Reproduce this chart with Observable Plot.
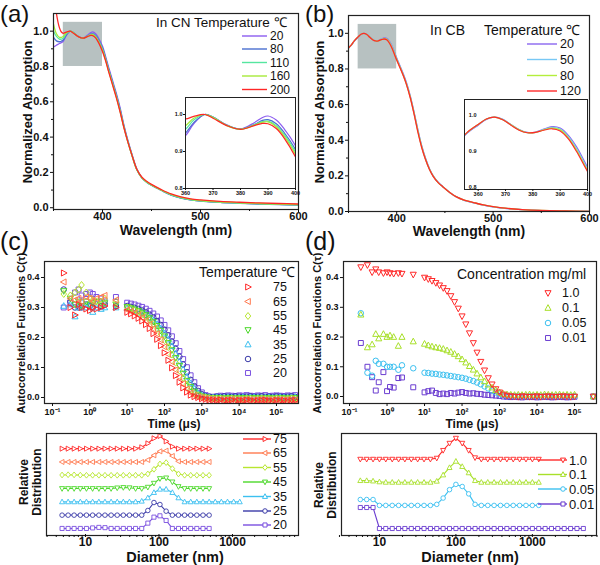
<!DOCTYPE html>
<html><head><meta charset="utf-8">
<script src="https://cdn.jsdelivr.net/npm/d3@7"></script>
<script src="https://cdn.jsdelivr.net/npm/@observablehq/plot@0.6"></script>
<style>
body{margin:0;background:#fff}
#fig{position:relative;width:600px;height:565px;overflow:hidden;font-family:"Liberation Sans",Arial,sans-serif;color:#111;background:#fff}
.t{position:absolute;white-space:nowrap;line-height:1;color:#111}
</style></head><body><div id="fig"></div>
<script>
// ================= DATA =================
// (a) UV-Vis in CN, temperatures
const seriesA = ["20", "80", "110", "160", "200"];
const wavelengthsA = [350,353,356,358,360,363,367,370,375,380,385,388,390,393,396,400,403,406,410,414,418,422,426,430,435,440,445,450,460,470,480,490,500,520,540,560,580,600];
const absA_20  = [0.91,0.92,0.93,0.935,0.943,0.975,1.0,0.993,0.972,0.961,0.978,0.992,0.996,0.985,0.96,0.915,0.86,0.80,0.725,0.65,0.565,0.465,0.38,0.305,0.22,0.172,0.146,0.128,0.099,0.073,0.056,0.045,0.039,0.031,0.026,0.022,0.019,0.016];
const absA_80  = [0.965,0.945,0.94,0.943,0.95,0.978,1.0,0.993,0.971,0.96,0.973,0.984,0.986,0.975,0.95,0.905,0.85,0.79,0.715,0.64,0.555,0.458,0.374,0.30,0.216,0.17,0.145,0.127,0.098,0.072,0.055,0.044,0.038,0.030,0.025,0.021,0.018,0.015];
const absA_110 = [1.0,0.97,0.955,0.955,0.96,0.985,1.0,0.993,0.971,0.96,0.972,0.981,0.982,0.97,0.945,0.898,0.845,0.785,0.71,0.635,0.55,0.455,0.372,0.298,0.215,0.17,0.145,0.127,0.099,0.073,0.056,0.045,0.039,0.031,0.026,0.022,0.019,0.016];
const absA_160 = [1.04,0.985,0.965,0.965,0.97,0.99,1.0,0.992,0.97,0.96,0.971,0.979,0.98,0.967,0.94,0.892,0.84,0.78,0.705,0.63,0.545,0.452,0.37,0.297,0.216,0.171,0.147,0.129,0.10,0.075,0.058,0.047,0.041,0.033,0.028,0.024,0.021,0.018];
const absA_200 = [1.25,1.1,1.02,0.995,0.988,0.995,1.0,0.99,0.97,0.96,0.97,0.976,0.975,0.962,0.935,0.885,0.835,0.775,0.70,0.625,0.542,0.45,0.37,0.298,0.218,0.174,0.15,0.132,0.103,0.078,0.061,0.05,0.044,0.036,0.031,0.027,0.024,0.021];
const absA = [absA_20, absA_80, absA_110, absA_160, absA_200];

// (b) UV-Vis in CB, temperatures
const seriesB = ["20", "50", "80", "120"];
const wavelengthsB = [350,353,356,360,363,366,369,372,375,378,381,384,387,390,393,396,400,404,407,410,414,418,422,426,430,434,438,443,448,455,462,470,480,490,500,515,530,550,575,600];
const absB_20  = [0.918,0.934,0.956,0.978,0.994,1.0,0.994,0.98,0.966,0.958,0.959,0.967,0.974,0.970,0.95,0.918,0.862,0.81,0.77,0.725,0.65,0.558,0.458,0.368,0.297,0.24,0.199,0.164,0.139,0.107,0.082,0.063,0.049,0.036,0.026,0.016,0.01,0.005,0.002,0.0];
const absB_50  = [0.918,0.934,0.957,0.979,0.995,1.0,0.994,0.979,0.965,0.957,0.958,0.966,0.972,0.967,0.946,0.913,0.857,0.805,0.765,0.72,0.646,0.554,0.455,0.365,0.295,0.239,0.198,0.163,0.139,0.107,0.082,0.063,0.049,0.036,0.026,0.016,0.01,0.005,0.002,0.0];
const absB_80  = [0.918,0.935,0.958,0.98,0.995,1.0,0.993,0.979,0.965,0.957,0.958,0.965,0.970,0.965,0.943,0.909,0.853,0.802,0.762,0.717,0.643,0.551,0.45,0.361,0.292,0.237,0.197,0.162,0.138,0.107,0.082,0.064,0.05,0.037,0.027,0.017,0.011,0.006,0.003,0.001];
const absB_120 = [0.918,0.935,0.958,0.98,0.995,1.0,0.993,0.978,0.964,0.957,0.958,0.964,0.968,0.962,0.94,0.905,0.85,0.80,0.76,0.715,0.64,0.548,0.445,0.358,0.29,0.236,0.196,0.162,0.138,0.107,0.082,0.064,0.05,0.037,0.027,0.017,0.011,0.006,0.003,0.001];
const absB = [absB_20, absB_50, absB_80, absB_120];

// highlighted zoom window (wavelength, absorbance)
const zoomWindow = {x1: 360, x2: 400, y1: 0.8, y2: 1.05};

// (c)/(d) DLS lag times (μs)
const lagTimes = [0.2,0.3,0.4,0.5,0.6,0.8,1,1.2,1.5,2,2.5,5,
  10,12.6,15.8,20,25.1,31.6,39.8,50.1,63.1,79.4,
  100,126,158,200,251,316,398,501,631,794,
  1000,1259,1585,1995,2512,3162,3981,5012,6310,7943,
  10000,12590,15850,19950,25120,31620,39810,50120,63100,79430,
  100000,125900,158500,199500,251200,316200];

// (c) autocorrelation, temperatures
const seriesC = ["75", "65", "55", "45", "35", "25", "20"];
const acfC_75 = [0.415,0.30,0.275,0.31,0.30,0.295,0.29,0.30,0.295,0.30,0.305,0.30,
  0.284,0.279,0.272,0.264,0.255,0.243,0.230,0.213,0.194,0.173,
  0.149,0.124,0.099,0.073,0.051,0.032,0.018,0.008,0.003,0.0,
  -0.004,-0.006,-0.008,-0.009,-0.01,-0.008,-0.011,-0.01,-0.009,-0.012,
  -0.01,-0.011,-0.009,-0.01,-0.012,-0.011,-0.01,-0.009,-0.011,-0.012,
  -0.01,-0.011,-0.01,-0.012,-0.011,-0.01];
const acfC_65 = [0.385,0.33,0.325,0.33,0.32,0.335,0.33,0.32,0.33,0.335,0.34,0.325,
  0.292,0.287,0.282,0.275,0.266,0.256,0.244,0.229,0.212,0.192,
  0.169,0.144,0.119,0.092,0.068,0.046,0.028,0.015,0.007,0.002,
  0.0,-0.003,-0.005,-0.006,-0.007,-0.006,-0.008,-0.007,-0.006,-0.008,
  -0.007,-0.008,-0.006,-0.007,-0.008,-0.007,-0.006,-0.008,-0.007,-0.008,
  -0.006,-0.007,-0.008,-0.007,-0.006,-0.008];
const acfC_55 = [0.345,0.34,0.35,0.36,0.375,0.35,0.33,0.325,0.32,0.31,0.33,0.32,
  0.300,0.296,0.291,0.285,0.278,0.269,0.258,0.245,0.230,0.212,
  0.191,0.168,0.143,0.116,0.090,0.065,0.043,0.026,0.013,0.006,
  0.002,0.0,-0.002,-0.003,-0.004,-0.003,-0.005,-0.004,-0.003,-0.005,
  -0.004,-0.005,-0.003,-0.004,-0.005,-0.004,-0.003,-0.005,-0.004,-0.005,
  -0.003,-0.004,-0.005,-0.004,-0.003,-0.005];
const acfC_45 = [0.355,0.33,0.31,0.32,0.305,0.32,0.31,0.315,0.32,0.32,0.315,0.31,
  0.302,0.298,0.294,0.289,0.283,0.275,0.265,0.253,0.239,0.223,
  0.204,0.182,0.158,0.132,0.106,0.080,0.056,0.036,0.020,0.010,
  0.004,0.001,-0.001,-0.002,-0.001,-0.002,-0.003,-0.001,-0.002,-0.003,
  -0.002,-0.001,-0.003,-0.002,-0.001,-0.002,-0.003,-0.002,-0.001,-0.003,
  -0.002,-0.001,-0.002,-0.003,-0.002,-0.001];
const acfC_35 = [0.305,0.31,0.27,0.30,0.32,0.30,0.31,0.285,0.30,0.295,0.30,0.30,
  0.298,0.296,0.292,0.287,0.282,0.275,0.267,0.257,0.244,0.230,
  0.213,0.193,0.171,0.146,0.120,0.094,0.069,0.047,0.029,0.015,
  0.007,0.003,0.001,0.0,0.001,0.0,-0.001,0.001,0.0,-0.001,
  0.0,0.001,-0.001,0.0,0.001,0.0,-0.001,0.0,0.001,-0.001,
  0.0,0.001,0.0,-0.001,0.0,0.001];
const acfC_25 = [0.36,0.32,0.30,0.30,0.30,0.31,0.305,0.30,0.31,0.305,0.31,0.305,
  0.305,0.302,0.299,0.295,0.290,0.284,0.276,0.267,0.255,0.242,
  0.226,0.207,0.186,0.162,0.136,0.110,0.084,0.059,0.038,0.022,
  0.011,0.005,0.003,0.002,0.003,0.002,0.004,0.003,0.002,0.004,
  0.003,0.002,0.003,0.004,0.002,0.003,0.004,0.002,0.003,0.002,
  0.004,0.003,0.002,0.003,0.004,0.002];
const acfC_20 = [0.30,0.315,0.35,0.36,0.34,0.345,0.35,0.345,0.335,0.33,0.32,0.335,
  0.316,0.313,0.310,0.306,0.302,0.296,0.289,0.280,0.270,0.257,
  0.242,0.224,0.204,0.181,0.155,0.128,0.101,0.074,0.051,0.031,
  0.017,0.008,0.003,0.001,0.004,0.006,0.005,0.007,0.006,0.005,
  0.007,0.006,0.008,0.006,0.005,0.007,0.006,0.008,0.005,0.006,
  0.007,0.006,0.005,0.007,0.006,0.008];
const acfC = [acfC_75, acfC_65, acfC_55, acfC_45, acfC_35, acfC_25, acfC_20];

// (d) autocorrelation, concentrations
const seriesD = ["1.0", "0.1", "0.05", "0.01"];
const acfD_10 = [0.435,0.442,0.418,0.428,0.418,0.415,0.418,0.415,0.413,0.415,0.413,0.41,
  0.40,0.395,0.389,0.382,0.374,0.365,0.355,0.338,0.318,0.296,
  0.27,0.243,0.213,0.18,0.148,0.117,0.088,0.062,0.041,0.025,
  0.014,0.007,0.003,0.001,0.0,-0.001,0.001,0.0,-0.001,0.0,
  0.001,-0.001,0.0,0.001,0.0,-0.001,0.0,0.001,0.0,-0.001,
  0.0,null,null,null,null,0.0];
const acfD_01 = [0.275,0.165,0.175,0.21,0.195,0.21,0.20,0.205,0.20,0.17,0.20,0.185,
  0.177,0.172,0.168,0.165,0.163,0.16,0.155,0.15,0.143,0.135,
  0.125,0.114,0.102,0.09,0.077,0.064,0.051,0.04,0.03,0.021,
  0.014,0.009,0.007,0.006,0.005,0.006,0.005,0.006,0.007,0.005,
  0.006,0.005,0.007,0.006,0.005,0.006,0.007,0.005,0.006,0.005,
  0.006,null,null,null,null,0.0];
const acfD_005 = [0.28,0.08,0.07,0.12,0.11,0.11,0.10,0.10,0.10,0.09,0.105,0.095,
  0.08,0.079,0.077,0.076,0.074,0.073,0.071,0.069,0.067,0.065,
  0.063,0.06,0.056,0.052,0.047,0.041,0.034,0.027,0.02,0.014,
  0.009,0.005,0.003,0.002,0.001,0.002,0.001,0.0,0.001,0.002,
  0.001,0.0,0.001,0.002,0.001,0.0,0.001,0.002,0.001,0.0,
  0.001,null,null,null,null,0.0];
const acfD_001 = [0.18,0.10,0.065,0.02,0.048,0.082,0.018,0.032,0.03,0.062,0.064,0.031,
  0.014,0.018,0.02,0.012,0.008,0.01,0.008,0.012,0.01,0.013,
  0.015,0.012,0.01,0.011,0.009,0.008,0.006,0.005,0.004,0.003,
  0.002,0.0,-0.001,-0.002,-0.001,-0.002,-0.003,-0.002,-0.001,-0.002,
  -0.003,-0.002,-0.001,-0.002,-0.003,-0.002,-0.001,-0.002,-0.003,-0.002,
  -0.001,null,null,null,null,0.0];
const acfD = [acfD_10, acfD_01, acfD_005, acfD_001];

// (c) size distributions (nm)
const diametersC = [4.8,5.8,7.0,8.5,10.3,12.5,15.2,18.4,22.3,27,32.7,39.6,48,58.2,70.5,85.4,103,125,152,184,223,270,327,397,481,582,705,855,1036,1255];
const distC_75 = [0,0,0,0,0,0,0,0,0,0,0,0,0,0.1,0.4,0.78,0.95,0.55,0.15,0,0,0,0,0,0,null,null,null,null,null];
const distC_65 = [0,0,0,0,0,0,0,0,0,0,0,0,0,0,0.15,0.5,0.8,0.85,0.45,0.05,0,0,0,0,0,null,null,null,null,null];
const distC_55 = [0.02,0.04,0.03,0.01,0,0,0,0,0,0,0,0,0,0,0.1,0.45,0.85,0.95,0.5,0.1,0,0,0,0,0,null,null,null,null,null];
const distC_45 = [0,0,0,0,0,0,0,0,0,0.05,0.08,0.06,0,0,0.1,0.4,0.75,0.8,0.5,0.15,0,0,0,0,0,null,null,null,null,null];
const distC_35 = [0,0,0,0,0,0,0,0,0,0,0,0,0,0.05,0.3,0.7,0.95,0.95,0.7,0.3,0,0,0,0,0,0,0,0,0,0];
const distC_25 = [0,0,0,0,0,0,0,0,0,0,0,0,0,0,0.35,0.95,0.8,0.3,0,0,0,0,0,0,0,null,null,null,null,null];
const distC_20 = [0,0,0,0,0,0.04,0.08,0.06,0,0,0,0,0,0,0.4,0.85,0.95,0.6,0,0,0,0,0,0,0,null,null,null,null,null];
const distC = [distC_75, distC_65, distC_55, distC_45, distC_35, distC_25, distC_20];

// (d) size distributions (nm)
const diametersD = [5.62,6.81,8.25,10,12.1,14.7,17.8,21.5,26.1,31.6,38.3,46.4,56.2,68.1,82.5,100,121,147,178,215,261,316,383,464,562,681,825,1000,1212,1468,1778,2154,2610,3162,3831,4642];
const distD_10  = [0,0,0,0,0,0,0,0,0,0,0,0,0.05,0.42,0.76,1.0,0.76,0.42,0.07,0,0,0,0,0,0,0,0,0,0,null,null,null,null,null,null,null];
const distD_01  = [0.08,0.08,0.06,0.02,0,0,0,0,0,0,0,0,0.05,0.35,0.7,1.0,0.75,0.45,0.08,0,0,0,0,0,0,0,0,0,0,null,null,null,null,null,null,null];
const distD_005 = [0.28,0.28,0.28,0,0,0,0,0,0,0,0,0,0.05,0.35,0.75,1.0,0.9,0.55,0.05,0,0,0,0,0,0,0,0,0,0,null,null,null,null,null,null,null];
const distD_001 = [1,1,1,0,0,0,0,0,0,0,0,0,0,0,0,0,0,0,0,0,0,0,0,0,0,0,0,0,0,0,0,0,0,0,0,0];
const distD = [distD_10, distD_01, distD_005, distD_001];

// tick values
const ticksAbsX = [400, 500, 600], minorAbsX = [350, 450, 550];
const ticksAbsY = [0, 0.2, 0.4, 0.6, 0.8, 1.0], minorAbsY = [0.1, 0.3, 0.5, 0.7, 0.9];
const ticksInsetX = [360, 370, 380, 390, 400], ticksInsetY = [0.8, 0.9, 1.0];
const ticksTime = [0.1, 1, 10, 100, 1000, 10000, 100000];
const ticksAcf = [0, 0.1, 0.2, 0.3, 0.4];
const ticksDiam = [10, 100, 1000];
const minorDiam = [3,4,5,6,7,8,9,20,30,40,50,60,70,80,90,200,300,400,500,600,700,800,900,2000,3000,4000,5000,6000,7000];

// ================= STYLE =================
const colorsA = ["#8c5cf0", "#4a6fd0", "#55e6a0", "#a6ea3a", "#ff2626"];
const colorsB = ["#8a66f0", "#78c8f5", "#b4ee3c", "#ff2a2a"];
const colorsC = ["#ff2a2a", "#ff7a50", "#b8e630", "#4cd82a", "#3cc0f0", "#3a3aa8", "#7a50e0"];
const colorsD = ["#ff2a2a", "#a8e02a", "#3cc0f0", "#6a3cd0"];
const rad = s => Math.sqrt(s / Math.PI);
const SYM = {
  right: {draw(c,s){const r=rad(s); c.moveTo(1.15*r,0); c.lineTo(-0.8*r,-1.05*r); c.lineTo(-0.8*r,1.05*r); c.closePath();}},
  left: {draw(c,s){const r=rad(s); c.moveTo(-1.15*r,0); c.lineTo(0.8*r,-1.05*r); c.lineTo(0.8*r,1.05*r); c.closePath();}},
  up: {draw(c,s){const r=rad(s); c.moveTo(0,-1.15*r); c.lineTo(1.05*r,0.8*r); c.lineTo(-1.05*r,0.8*r); c.closePath();}},
  down: {draw(c,s){const r=rad(s); c.moveTo(0,1.15*r); c.lineTo(1.05*r,-0.8*r); c.lineTo(-1.05*r,-0.8*r); c.closePath();}},
  diamond: {draw(c,s){const r=rad(s); c.moveTo(0,-1.2*r); c.lineTo(0.95*r,0); c.lineTo(0,1.2*r); c.lineTo(-0.95*r,0); c.closePath();}},
  circle: {draw(c,s){const r=rad(s)*0.95; c.moveTo(r,0); c.arc(0,0,r,0,2*Math.PI); c.closePath();}},
  square: {draw(c,s){const h=rad(s)*0.85; c.rect(-h,-h,2*h,2*h);}}
};
const symC = [SYM.right, SYM.left, SYM.diamond, SYM.down, SYM.up, SYM.circle, SYM.square];
const symD = [SYM.down, SYM.up, SYM.circle, SYM.square];

const FONT = '"Liberation Sans", Arial, Helvetica, sans-serif';
const fig = document.getElementById("fig");
const st = fs => ({fontFamily: FONT, fontSize: fs + "px", fontWeight: "bold", background: "transparent", overflow: "visible", color: "#111"});
function place(svg, left, top) { svg.style.position = "absolute"; svg.style.left = left + "px"; svg.style.top = top + "px"; svg.style.maxWidth = "none"; fig.appendChild(svg); return svg; }
function txt(s, x, y, o = {}) {
  const d = document.createElement("div");
  d.className = "t";
  if (o.html) d.innerHTML = s; else d.textContent = s;
  d.style.left = x + "px"; d.style.top = y + "px";
  d.style.fontSize = (o.fs || 12) + "px";
  d.style.fontWeight = o.normal ? "normal" : "bold";
  if (o.lh) d.style.lineHeight = o.lh;
  d.style.textAlign = "center";
  d.style.transform = o.rot ? "translate(-50%,-50%) rotate(-90deg)" : (o.center ? "translate(-50%,-50%)" : "none");
  fig.appendChild(d);
}
function rowsOf(names, xs, yss) {
  const out = [];
  names.forEach((n, k) => xs.forEach((x, i) => { if (yss[k][i] != null) out.push({s: n, x, y: yss[k][i]}); }));
  return out;
}
const supMap = {"-":"⁻","0":"⁰","1":"¹","2":"²","3":"³","4":"⁴","5":"⁵"};
const decade = d => "10" + String(Math.round(Math.log10(d))).split("").map(c => supMap[c]).join("");
const f1 = d => d.toFixed(1);
function gAt(svg, left, top) { return d3.select(svg).append("g").attr("transform", `translate(${-left},${-top})`).attr("text-anchor", "start"); }
function legendText(g, s, x, y, fs) {
  g.append("text").attr("x", x).attr("y", y).attr("dy", "0.35em").attr("text-anchor", "start").attr("font-size", fs).attr("font-weight", "normal").attr("fill", "#111").text(s);
}
function legend(g, names, colors, o) {
  names.forEach((n, i) => {
    const y = o.ys[i];
    if (o.x1 != null) g.append("line").attr("x1", o.x1).attr("x2", o.x2).attr("y1", y).attr("y2", y).attr("stroke", colors[i]).attr("stroke-width", 1.4);
    if (o.syms) g.append("path").attr("d", d3.symbol(o.syms[i], Math.PI * o.r * o.r)()).attr("transform", `translate(${o.mx},${y})`).attr("fill", o.fill || "none").attr("stroke", colors[i]).attr("stroke-width", 1);
    legendText(g, n, o.xt, y, o.fs);
  });
}

// ================= (a) =================
const rowsA = rowsOf(seriesA, wavelengthsA, absA);
const plotA = Plot.plot({
  width: 300, height: 240, marginLeft: 53, marginRight: 2, marginTop: 13, marginBottom: 31,
  style: st(11),
  x: {domain: [350, 600], label: null},
  y: {domain: [-0.01, 1.1], label: null},
  color: {domain: seriesA, range: colorsA},
  marks: [
    Plot.rect([zoomWindow], {x1: "x1", x2: "x2", y1: "y1", y2: "y2", fill: "#b7c1c1"}),
    Plot.line(rowsA, {x: "x", y: "y", z: "s", stroke: "s", curve: "catmull-rom", strokeWidth: 1.3, clip: true}),
    Plot.frame({stroke: "#222", strokeWidth: 1.2}),
    Plot.axisX({ticks: ticksAbsX, tickSize: 3, tickPadding: 0, label: null, tickFormat: d => String(d)}),
    Plot.axisX({ticks: minorAbsX, tickSize: 2, label: null, tickFormat: () => ""}),
    Plot.axisY({ticks: ticksAbsY, tickSize: 3, tickPadding: 2, label: null, tickFormat: f1}),
    Plot.axisY({ticks: minorAbsY, tickSize: 2, label: null, tickFormat: () => ""})
  ]
});
place(plotA, 0, 0);
{
  const g = gAt(plotA, 0, 0);
  legendText(g, "In CN Temperature ℃", 156, 22, 13.5);
  legend(g, seriesA, colorsA, {x1: 242, x2: 267, xt: 270, ys: [36, 49, 62.5, 76, 89.5], fs: 12});
}
const insetA = Plot.plot({
  width: 130, height: 103, marginLeft: 15, marginRight: 5, marginTop: 2, marginBottom: 10,
  style: st(5.5),
  x: {domain: [360, 400], label: null},
  y: {domain: [0.8, 1.046], label: null},
  color: {domain: seriesA, range: colorsA},
  marks: [
    Plot.frame({fill: "white"}),
    Plot.line(rowsA, {x: "x", y: "y", z: "s", stroke: "s", curve: "catmull-rom", strokeWidth: 1.2, clip: true}),
    Plot.frame({stroke: "#222", strokeWidth: 1}),
    Plot.axisX({ticks: ticksInsetX, tickSize: 2, tickPadding: 1, label: null, tickFormat: d => String(d)}),
    Plot.axisY({ticks: ticksInsetY, tickSize: 2, tickPadding: 1, label: null, tickFormat: f1})
  ]
});
place(insetA, 170, 95);

// ================= (b) =================
const rowsB = rowsOf(seriesB, wavelengthsB, absB);
const plotB = Plot.plot({
  width: 300, height: 240, marginLeft: 48, marginRight: 11, marginTop: 15, marginBottom: 29,
  style: st(11),
  x: {domain: [350, 600], label: null},
  y: {domain: [0, 1.1], label: null},
  color: {domain: seriesB, range: colorsB},
  marks: [
    Plot.rect([zoomWindow], {x1: "x1", x2: "x2", y1: "y1", y2: "y2", fill: "#b7c1c1"}),
    Plot.line(rowsB, {x: "x", y: "y", z: "s", stroke: "s", curve: "catmull-rom", strokeWidth: 1.3, clip: true}),
    Plot.frame({stroke: "#222", strokeWidth: 1.2}),
    Plot.axisX({ticks: ticksAbsX, tickSize: 3, tickPadding: 0, label: null, tickFormat: d => String(d)}),
    Plot.axisX({ticks: minorAbsX, tickSize: 2, label: null, tickFormat: () => ""}),
    Plot.axisY({ticks: ticksAbsY, tickSize: 3, tickPadding: 2, label: null, tickFormat: f1}),
    Plot.axisY({ticks: minorAbsY, tickSize: 2, label: null, tickFormat: () => ""})
  ]
});
place(plotB, 300, 0);
{
  const g = gAt(plotB, 300, 0);
  legendText(g, "In CB", 430, 30, 14);
  legendText(g, "Temperature ℃", 484, 30, 14);
  legend(g, seriesB, colorsB, {x1: 527, x2: 557, xt: 560, ys: [44, 59.5, 75.5, 91], fs: 12.5});
}
const insetB = Plot.plot({
  width: 130, height: 103, marginLeft: 2, marginRight: 5, marginTop: 2, marginBottom: 11,
  style: st(5.5),
  x: {domain: [355, 400], label: null},
  y: {domain: [0.8, 1.049], label: null},
  color: {domain: seriesB, range: colorsB},
  marks: [
    Plot.frame({fill: "white"}),
    Plot.line(rowsB, {x: "x", y: "y", z: "s", stroke: "s", curve: "catmull-rom", strokeWidth: 1.2, clip: true}),
    Plot.frame({stroke: "#222", strokeWidth: 1}),
    Plot.axisX({ticks: ticksInsetX, tickSize: 2, tickPadding: 1, label: null, tickFormat: d => String(d)}),
    Plot.axisY({ticks: ticksInsetY, tickSize: 0, tickPadding: 0, dx: 12, dy: -2, label: null, tickFormat: f1})
  ]
});
place(insetB, 462, 97);

// ================= (c) top =================
const plotC = Plot.plot({
  width: 300, height: 180, marginLeft: 44, marginRight: 2, marginTop: 21, marginBottom: 17,
  style: st(9),
  x: {type: "log", domain: [0.061, 3.89e5], label: null},
  y: {domain: [-0.02, 0.4533], label: null},
  marks: [
    ...seriesC.map((n, k) => k).reverse().map(k =>
      Plot.dot(rowsOf([seriesC[k]], lagTimes, [acfC[k]]), {x: "x", y: "y", symbol: symC[k], stroke: colorsC[k], fill: "none", r: 2.9, strokeWidth: 1, clip: true})),
    Plot.frame({stroke: "#222", strokeWidth: 1.2}),
    Plot.axisX({ticks: ticksTime, tickSize: 3, tickPadding: 2, label: null, tickFormat: decade}),
    Plot.axisY({ticks: ticksAcf, tickSize: 3, tickPadding: 2, label: null, tickFormat: f1})
  ]
});
place(plotC, 0, 240);
{
  const g = gAt(plotC, 0, 240);
  legendText(g, "Temperature ℃", 199, 272, 14);
  legend(g, seriesC, colorsC, {syms: symC, r: 2.9, mx: 248, xt: 273, ys: [287, 301.5, 316, 330, 344.5, 359, 373], fs: 12.5});
}

// ================= (d) top =================
const plotD = Plot.plot({
  width: 300, height: 180, marginLeft: 43, marginRight: 4, marginTop: 21, marginBottom: 17,
  style: st(9),
  x: {type: "log", domain: [0.069, 3.85e5], label: null},
  y: {domain: [-0.0235, 0.454], label: null},
  marks: [
    ...seriesD.map((n, k) => k).reverse().map(k =>
      Plot.dot(rowsOf([seriesD[k]], lagTimes, [acfD[k]]), {x: "x", y: "y", symbol: symD[k], stroke: colorsD[k], fill: "none", r: 2.9, strokeWidth: 1, clip: true})),
    Plot.frame({stroke: "#222", strokeWidth: 1.2}),
    Plot.axisX({ticks: ticksTime, tickSize: 3, tickPadding: 2, label: null, tickFormat: decade}),
    Plot.axisY({ticks: ticksAcf, tickSize: 3, tickPadding: 2, label: null, tickFormat: f1})
  ]
});
place(plotD, 300, 240);
{
  const g = gAt(plotD, 300, 240);
  legendText(g, "Concentration mg/ml", 457, 274, 14);
  legend(g, seriesD, colorsD, {syms: symD, r: 2.9, mx: 548, xt: 562, ys: [293, 308, 323, 338], fs: 12.5});
}

// ================= (c) bottom =================
function stacked(names, xs, yss, step) {
  const n = names.length, out = [];
  names.forEach((s, k) => xs.forEach((x, i) => { const v = yss[k][i]; if (v != null) out.push({s, k, x, y: v + (n - 1 - k) * step}); }));
  return out;
}
const rowsCB = stacked(seriesC, diametersC, distC, 1.0);
const plotCB = Plot.plot({
  width: 300, height: 145, marginLeft: 46, marginRight: 2, marginTop: 13, marginBottom: 30,
  style: st(12),
  x: {type: "log", domain: [2.947, 7907], label: null},
  y: {domain: [-0.53, 7.14], label: null, axis: null},
  marks: [
    ...seriesC.map((n, k) => k).reverse().flatMap(k => {
      const d = rowsCB.filter(r => r.k === k);
      return [
        Plot.line(d, {x: "x", y: "y", stroke: colorsC[k], strokeWidth: 1.1}),
        Plot.dot(d, {x: "x", y: "y", symbol: symC[k], stroke: colorsC[k], fill: "white", r: 2.4, strokeWidth: 0.9})
      ];
    }),
    Plot.frame({stroke: "#222", strokeWidth: 1.2}),
    Plot.axisX({ticks: ticksDiam, tickSize: 3, tickPadding: 0, dy: -1, label: null, tickFormat: d => String(d)}),
    Plot.axisX({ticks: minorDiam, tickSize: 2, label: null, tickFormat: () => ""})
  ]
});
place(plotCB, 0, 420);
{
  const g = gAt(plotCB, 0, 420);
  legend(g, seriesC, colorsC, {x1: 243, x2: 271, syms: symC, r: 2.4, mx: 265, fill: "white", xt: 273, ys: [439, 453, 467.5, 482, 496.5, 511, 525], fs: 12.5});
}

// ================= (d) bottom =================
const rowsDB = stacked(seriesD, diametersD, distD, 1.1);
const plotDB = Plot.plot({
  width: 300, height: 145, marginLeft: 41, marginRight: 4, marginTop: 13, marginBottom: 30,
  style: st(12),
  x: {type: "log", domain: [3.19, 6900], label: null},
  y: {domain: [-0.333, 4.524], label: null, axis: null},
  marks: [
    ...seriesD.map((n, k) => k).reverse().flatMap(k => {
      const d = rowsDB.filter(r => r.k === k);
      return [
        Plot.line(d, {x: "x", y: "y", stroke: colorsD[k], strokeWidth: 1.1}),
        Plot.dot(d, {x: "x", y: "y", symbol: symD[k], stroke: colorsD[k], fill: "white", r: 2.4, strokeWidth: 0.9})
      ];
    }),
    Plot.frame({stroke: "#222", strokeWidth: 1.2}),
    Plot.axisX({ticks: ticksDiam, tickSize: 3, tickPadding: 0, dy: -1, label: null, tickFormat: d => String(d)}),
    Plot.axisX({ticks: minorDiam, tickSize: 2, label: null, tickFormat: () => ""})
  ]
});
place(plotDB, 300, 420);
{
  const g = gAt(plotDB, 300, 420);
  legend(g, seriesD, colorsD, {x1: 538, x2: 567, syms: symD, r: 2.4, mx: 563, fill: "white", xt: 569, ys: [460, 474.5, 489, 504], fs: 13});
}

// ================= titles & labels =================
txt("(a)", 0, 2, {fs: 24, normal: true});
txt("(b)", 305, 2, {fs: 24, normal: true});
txt("(c)", 0, 229, {fs: 25, normal: true});
txt("(d)", 305, 229, {fs: 25, normal: true});
txt("Normalized Absorption", 26.5, 112, {fs: 13, rot: true});
txt("Normalized Absorption", 319, 112, {fs: 13, rot: true});
txt("Wavelength (nm)", 176, 230, {fs: 14, center: true});
txt("Wavelength (nm)", 469, 231, {fs: 14, center: true});
txt("Autocorrelation Functions C(τ)", 21, 333, {fs: 11, rot: true});
txt("Autocorrelation Functions C(τ)", 317, 333, {fs: 11, rot: true});
txt("Time (μs)", 174, 424, {fs: 12, center: true});
txt("Time (μs)", 472, 424, {fs: 12, center: true});
txt("Relative<br>Distribution", 31, 482, {fs: 12, rot: true, html: true, lh: "1.1"});
txt("Relative<br>Distribution", 326, 485, {fs: 12, rot: true, html: true, lh: "1.1"});
txt("Diameter (nm)", 175, 557, {fs: 14.5, center: true});
txt("Diameter (nm)", 470, 557, {fs: 14.5, center: true});
</script></body></html>
